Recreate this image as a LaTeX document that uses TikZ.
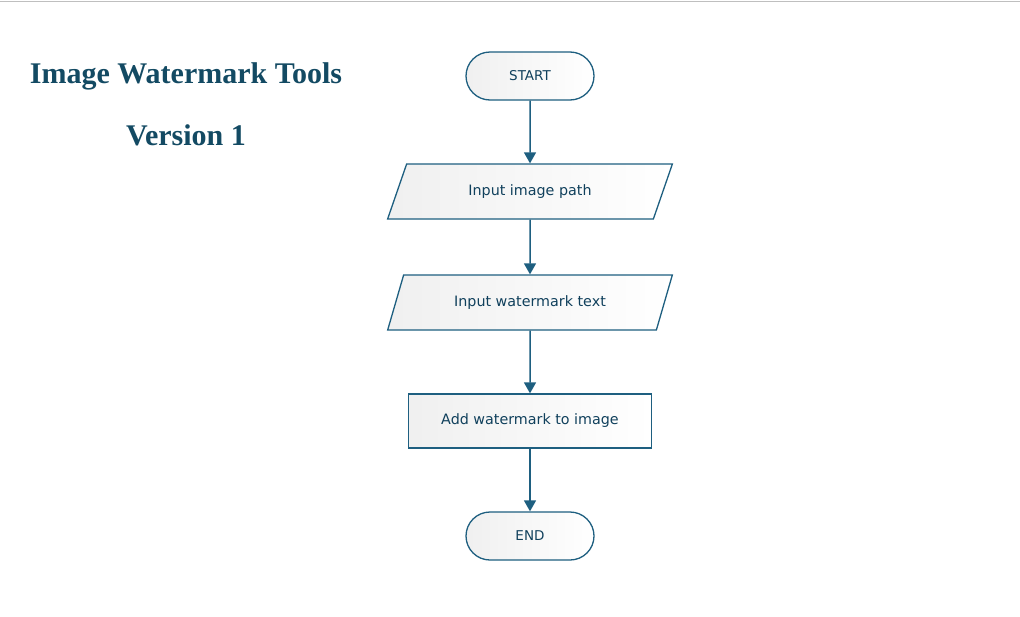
\documentclass[tikz,border=0pt]{standalone}
\usepackage{fontspec}
\setmainfont{DejaVu Sans}
\newfontfamily\titlefont{Liberation Serif}
\usetikzlibrary{shapes.geometric,arrows.meta}
\definecolor{flowline}{HTML}{1E5F80}
\definecolor{flowtext}{HTML}{10405C}
\definecolor{titleblue}{HTML}{134A63}
\tikzset{
  terminal/.style={draw=flowline,line width=1.3pt,rounded corners=24pt,
    minimum width=128pt,minimum height=48pt,left color=black!6,right color=white,
    text=flowtext,font=\fontsize{13.5}{15}\selectfont},
  iobox/.style={draw=flowline,line width=1.3pt,trapezium,trapezium stretches=true,
    trapezium left angle=64,trapezium right angle=116,
    minimum width=285pt,minimum height=55pt,left color=black!6,right color=white,
    text=flowtext,font=\fontsize{14.3}{16}\selectfont},
  process/.style={draw=flowline,line width=1.3pt,
    minimum width=243pt,minimum height=54pt,left color=black!6,right color=white,
    text=flowtext,font=\fontsize{14.3}{16}\selectfont},
  flow/.style={draw=flowline,line width=1.5pt,-{Triangle[width=12pt,length=11pt]}}
}
\begin{document}
\begin{tikzpicture}[x=1pt,y=-1pt]
  \useasboundingbox (0,0) rectangle (1020,616);
  \fill[white] (0,0) rectangle (1020,616);
  \draw[black!25,line width=1pt] (0,1.5) -- (1020,1.5);
  % titles
  \node[text=titleblue,font=\titlefont\bfseries\fontsize{30}{34}\selectfont] (title) at (186,76) {Image Watermark Tools};
  \node[text=titleblue,font=\titlefont\bfseries\fontsize{30}{34}\selectfont] (version) at (186,135) {Version 1};
  % flow
  \node[terminal] (start) at (530,76) {START};
  \node[iobox] (path) at (530,191.5) {Input image path};
  \node[iobox] (text) at (530,302.5) {Input watermark text};
  \node[process] (add) at (530,421) {Add watermark to image};
  \node[terminal] (end) at (530,536) {END};
  \draw[flow] (start) -- (path);
  \draw[flow] (path) -- (text);
  \draw[flow] (text) -- (add);
  \draw[flow] (add) -- (end);
\end{tikzpicture}
\end{document}
